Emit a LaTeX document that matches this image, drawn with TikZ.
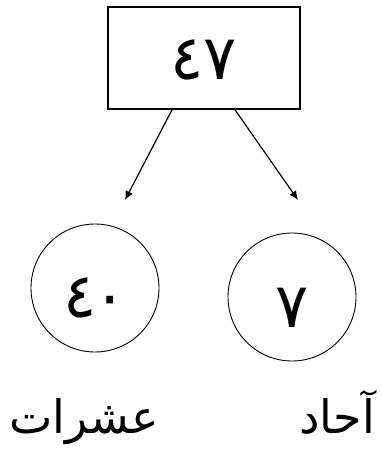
\documentclass[tikz,border=0pt]{standalone}
\usepackage{fontspec}
\newfontfamily\arabicfont[Script=Arabic]{DejaVu Sans}
\TeXXeTstate=1
\usetikzlibrary{arrows.meta, positioning}
\newcommand{\lowered}[2]{\raisebox{-#1}[\height][\depth]{#2}}
\tikzset{
  numbox/.style={rectangle, draw, line width=1.6pt, minimum width=192pt,
                 minimum height=102pt, inner sep=0pt,
                 font=\arabicfont\fontsize{62}{62}\selectfont},
  numcirc/.style={circle, draw, line width=0.9pt, minimum size=128pt,
                  inner sep=0pt, font=\arabicfont\fontsize{62}{62}\selectfont},
  placename/.style={inner sep=0pt, anchor=base,
                    font=\arabicfont\fontsize{46}{46}\selectfont},
  flecha/.style={-{Latex[length=9pt, width=8pt]}, line width=1.2pt}
}
\begin{document}
\begin{tikzpicture}[x=1pt, y=-1pt]
  \useasboundingbox[fill=white] (0,0) rectangle (382,452);
  \node[numbox] (top) at (204,58) {\lowered{2pt}{٤٧}};
  \node[numcirc] (tens) at (95,288) {\lowered{10pt}{٤\kern-4pt٠}};
  \node[numcirc] (ones) at (292,297) {\lowered{11pt}{٧}};
  \node[placename] (tenslbl) at (84,433) {\beginR عشرات\endR};
  \node[placename] (oneslbl) at (337,433) {\beginR آحاد\endR};
  \coordinate (tensend) at (125,200);
  \coordinate (onesend) at (298,200);
  \draw[flecha] ([xshift=-32pt]top.south) -- (tensend);
  \draw[flecha] ([xshift=31pt]top.south) -- (onesend);
\end{tikzpicture}
\end{document}
